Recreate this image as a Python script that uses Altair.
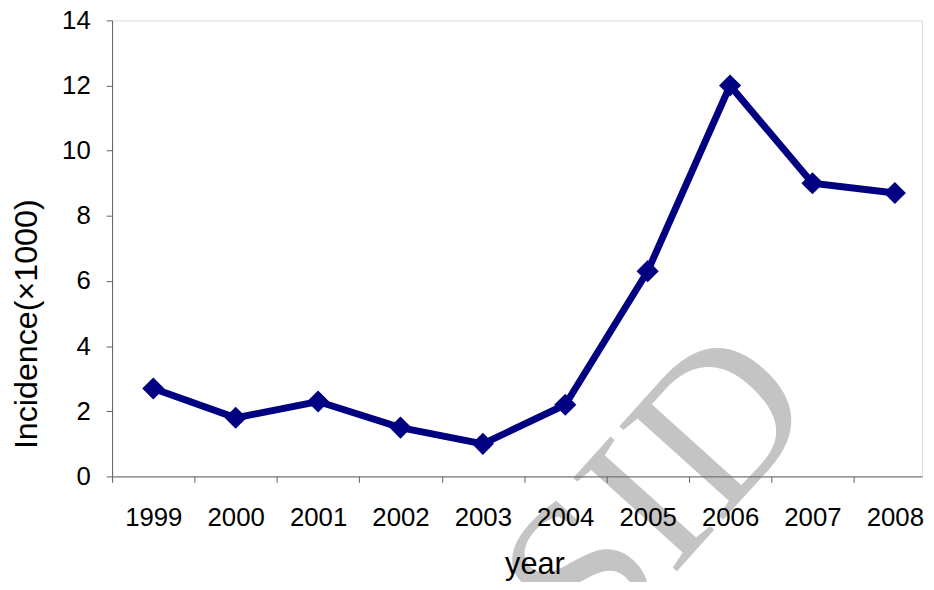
import altair as alt
import pandas as pd

years = [1999, 2000, 2001, 2002, 2003, 2004, 2005, 2006, 2007, 2008]
incidence = [2.7, 1.8, 2.3, 1.5, 1.0, 2.2, 6.3, 12.0, 9.0, 8.7]
y_ticks = [0, 2, 4, 6, 8, 10, 12, 14]

df = pd.DataFrame({"year": years, "incidence": incidence})

NAVY = "#000080"
AXIS_GRAY = "#606060"
FONT = "Liberation Sans"

x_enc = alt.X(
    "year:Q",
    scale=alt.Scale(domain=[1998.5, 2008.33], nice=False, zero=False),
    axis=alt.Axis(
        title="year",
        values=years,
        format="d",
        grid=False,
        zindex=1,
        tickOffset=-41.5,
        labelOffset=41.5,
        tickSize=6,
        tickColor=AXIS_GRAY,
        domainColor=AXIS_GRAY,
        labelFont=FONT,
        labelFontSize=26,
        labelColor="black",
        labelPadding=23,
        labelFlush=False,
        labelOverlap=False,
        labelBound=False,
        titleFont=FONT,
        titleFontSize=31,
        titleFontWeight="normal",
        titleColor="black",
        titleX=426,
        titleY=98,
        titleBaseline="alphabetic",
        titleAlign="center",
    ),
)

y_enc = alt.Y(
    "incidence:Q",
    scale=alt.Scale(domain=[0, 14], nice=False),
    axis=alt.Axis(
        title="Incidence(×1000)",
        values=y_ticks,
        grid=False,
        zindex=1,
        tickSize=6,
        tickColor=AXIS_GRAY,
        domainColor=AXIS_GRAY,
        labelFont=FONT,
        labelFontSize=26,
        labelColor="black",
        labelPadding=16,
        titleFont=FONT,
        titleFontSize=32.5,
        titleFontWeight="normal",
        titleColor="black",
        titleX=-86,
        titleY=306,
        titleAngle=270,
        titleBaseline="middle",
        titleAlign="center",
    ),
)

base = alt.Chart(df).encode(x=x_enc, y=y_enc)

line = base.mark_line(color=NAVY, strokeWidth=7)
points = base.mark_point(shape="diamond", filled=True, size=500, color=NAVY, opacity=1)

watermark = alt.Chart(pd.DataFrame({"t": ["SID"]})).mark_text(
    font="Liberation Serif",
    fontSize=215,
    color="#c4c4c4",
    angle=312,
    align="center",
    baseline="middle",
).encode(text="t:N", x=alt.value(552), y=alt.value(478))

chart = alt.layer(watermark, line, points).properties(
    width=817,
    height=460,
    autosize=alt.AutoSizeParams(type="none"),
    padding={"left": 105, "top": 10, "right": 4, "bottom": 104},
).configure_view(stroke=None).configure(background="white")

chart.save("out.html", embed_options={"renderer": "svg", "actions": False})
